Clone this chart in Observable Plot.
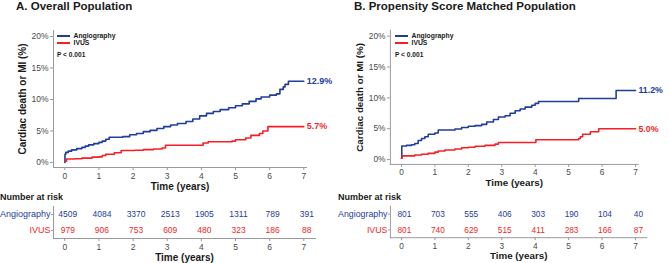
<!DOCTYPE html>
<html><head><meta charset="utf-8">
<script src="https://cdn.jsdelivr.net/npm/d3@7"></script>
<script src="https://cdn.jsdelivr.net/npm/@observablehq/plot@0.6"></script>
<style>
body{margin:0;background:#fff;font-family:"Liberation Sans",Arial,sans-serif;}
#root{position:relative;width:669px;height:263px;overflow:hidden;background:#fff;}
.abs{position:absolute;white-space:nowrap;}
.plot{position:absolute;}
.plot svg{overflow:visible;}
[aria-label="x-axis label"] text,[aria-label="y-axis label"] text{font-weight:bold;font-size:10px;fill:#1a1a1a;}
</style></head>
<body><div id="root"></div>
<script>
// ---------- data ----------
const years = [0,1,2,3,4,5,6,7];
const yTicks = [0,5,10,15,20];
const groups = ["Angiography","IVUS"];
const pText = "P < 0.001";
const titleA = "A. Overall Population";
const titleB = "B. Propensity Score Matched Population";
const yLabel = "Cardiac death or MI (%)";
const xLabel = "Time (years)";
const riskLabel = "Number at risk";

// Panel A: cumulative incidence (%)
const aAngioTime = [0,0.005,0.03,0.1,0.2,0.35,0.5,0.6,0.7,0.85,1.0,1.1,1.2,1.3,1.5,1.7,1.9,2.1,2.3,2.5,2.7,2.9,3.1,3.3,3.55,3.75,3.95,4.15,4.35,4.55,4.8,5.0,5.2,5.4,5.6,5.75,6.0,6.2,6.3,6.4,6.45,6.55,7.0];
const aAngioPct  = [0,1.3,1.6,1.8,2.0,2.2,2.4,2.6,2.8,3.0,3.2,3.4,3.7,4.0,4.0,4.1,4.4,4.6,4.9,5.1,5.4,5.7,5.95,6.2,6.5,6.9,7.4,7.8,8.1,8.4,8.7,9.0,9.3,9.7,10.1,10.4,10.7,10.9,11.6,12.0,12.4,12.9,12.9];
const aIvusTime = [0,0.05,0.3,0.5,0.8,1.0,1.1,1.2,1.45,1.65,2.05,2.3,2.6,2.85,2.95,4.0,4.05,4.2,4.9,5.0,5.3,5.45,5.7,5.8,5.95,7.0];
const aIvusPct  = [0.2,0.55,0.6,0.7,0.85,0.9,1.1,1.3,1.55,1.9,1.95,2.05,2.15,2.3,2.75,2.75,3.1,3.3,3.4,3.6,3.9,4.3,4.6,5.0,5.7,5.7];

// Panel B
const bAngioTime = [0,0.01,0.15,0.3,0.4,0.5,0.6,0.7,0.8,1.0,1.1,1.6,1.8,2.0,2.2,2.4,2.55,2.75,2.9,3.1,3.25,3.4,3.55,3.7,3.9,4.0,4.1,5.3,6.42,7.0];
const bAngioPct  = [0.2,2.2,2.3,2.4,2.6,3.1,3.4,3.7,4.1,4.3,4.8,4.95,5.2,5.4,5.5,5.7,6.1,6.5,6.9,7.1,7.5,7.9,8.2,8.5,8.8,9.1,9.4,9.9,11.2,11.2];
const bIvusTime = [0,0.02,0.4,0.6,0.8,1.0,1.1,1.3,1.6,1.8,2.0,2.2,2.5,2.8,2.9,4.0,4.02,5.3,5.35,5.42,5.65,5.9,7.0];
const bIvusPct  = [0.2,0.6,0.75,0.85,1.0,1.2,1.4,1.55,1.7,1.9,2.0,2.15,2.3,2.5,2.75,2.75,3.2,3.4,3.7,4.1,4.5,5.0,5.0];

// Number at risk
const aRiskAngio = [4509,4084,3370,2513,1905,1311,789,391];
const aRiskIvus  = [979,906,753,609,480,323,186,88];
const bRiskAngio = [801,703,555,406,303,190,104,40];
const bRiskIvus  = [801,740,629,515,411,283,166,87];

// ---------- styles ----------
const blue = "#1f3d9b", red = "#f51f25";
const axisColor = "#9a9a9a", tickText = "#4a4a4a";
const font = '"Liberation Sans", Arial, sans-serif';
const root = document.getElementById("root");

function addText(txt, x, yc, size, opts = {}) {
  const d = document.createElement("div");
  d.className = "abs";
  d.textContent = txt;
  d.style.left = x + "px";
  d.style.top = (yc - size / 2) + "px";
  d.style.fontSize = size + "px";
  d.style.lineHeight = size + "px";
  d.style.fontWeight = opts.bold ? "bold" : "normal";
  d.style.color = opts.color || "#1a1a1a";
  root.appendChild(d);
}
function addSwatch(x, yc, color) {
  const d = document.createElement("div");
  d.className = "abs";
  d.style.left = x + "px"; d.style.top = (yc - 1) + "px";
  d.style.width = "13px"; d.style.height = "2px";
  d.style.background = color;
  root.appendChild(d);
}
function place(svg, x, y) {
  const w = document.createElement("div");
  w.className = "plot";
  w.style.left = x + "px"; w.style.top = y + "px";
  w.appendChild(svg);
  root.appendChild(w);
}

function panel(ox, title, curves, risk) {
  addText(title, ox + 16, 6.5, 11.5, {bold: true});
  // legend
  addSwatch(ox + 57, 36, blue);
  addText(groups[0], ox + 73.5, 36, 6.8, {bold: true});
  addSwatch(ox + 57, 43, red);
  addText(groups[1], ox + 73.5, 43, 6.8, {bold: true});
  addText(pText, ox + 57, 55, 6.6, {bold: true});

  const lineData = curves.flatMap(c => c.time.map((t, i) => ({t, p: c.pct[i], g: c.group})));
  const ends = curves.map(c => ({t: c.time[c.time.length - 1], p: c.pct[c.pct.length - 1], g: c.group}));

  const main = Plot.plot({
    width: 338, height: 172,
    marginLeft: 53, marginRight: 32, marginTop: 10, marginBottom: 25,
    insetLeft: 11.3, insetRight: 2.7, insetTop: 6, insetBottom: 5,
    style: {fontFamily: font, fontSize: "8px", color: tickText, background: "transparent", overflow: "visible"},
    x: {domain: [0, 7]},
    y: {domain: [0, 20]},
    color: {domain: groups, range: [blue, red]},
    marks: [
      Plot.frame({anchor: "left", stroke: axisColor}),
      Plot.frame({anchor: "bottom", stroke: axisColor}),
      Plot.axisY({ticks: yTicks, tickFormat: d => d + "%", tickSize: 3, tickPadding: 2, stroke: axisColor, fill: tickText,
        fontSize: 8.5, label: yLabel, labelAnchor: "center", labelOffset: 35, labelArrow: "none"}),
      Plot.axisX({ticks: years, tickFormat: d => String(d), tickSize: 3, tickPadding: 2, stroke: axisColor, fill: tickText,
        fontSize: 8.5, label: xLabel, labelAnchor: "center", labelOffset: 22, labelArrow: "none"}),
      Plot.line(lineData, {x: "t", y: "p", z: "g", stroke: "g", curve: "step-after", strokeWidth: 1.6}),
      Plot.text(ends, {x: "t", y: "p", text: d => d.p.toFixed(1) + "%", fill: "g", dx: 3, textAnchor: "start",
        fontWeight: "bold", fontSize: 9})
    ]
  });
  place(main, ox, 20);

  addText(riskLabel, ox, 197, 9, {bold: true});
  const riskData = groups.flatMap((g, gi) => years.map((yr, i) => ({year: yr, g, n: risk[gi][i]})));
  const tbl = Plot.plot({
    width: 338, height: 63,
    marginLeft: 53, marginRight: 23, marginTop: 6, marginBottom: 25,
    insetLeft: 11.3, insetRight: 11.7,
    style: {fontFamily: font, fontSize: "8px", color: tickText, background: "transparent", overflow: "visible"},
    x: {domain: [0, 7]},
    y: {domain: groups},
    color: {domain: groups, range: [blue, red]},
    marks: [
      Plot.frame({anchor: "left", stroke: axisColor}),
      Plot.frame({anchor: "bottom", stroke: axisColor}),
      Plot.axisY({tickSize: 2, tickPadding: 1, fontSize: 9, stroke: axisColor, fill: d => d, label: null}),
      Plot.axisX({ticks: years, tickFormat: d => String(d), tickSize: 3, tickPadding: 2, stroke: axisColor, fill: tickText,
        fontSize: 8.5, label: xLabel, labelAnchor: "center", labelOffset: 22, labelArrow: "none"}),
      Plot.text(riskData, {x: "year", y: "g", text: d => String(d.n), fill: "g", fontSize: 8.5, dx: 3})
    ]
  });
  place(tbl, ox, 200);
}

panel(0, titleA, [
  {group: groups[0], time: aAngioTime, pct: aAngioPct},
  {group: groups[1], time: aIvusTime, pct: aIvusPct}
], [aRiskAngio, aRiskIvus]);

panel(338, titleB, [
  {group: groups[0], time: bAngioTime, pct: bAngioPct},
  {group: groups[1], time: bIvusTime, pct: bIvusPct}
], [bRiskAngio, bRiskIvus]);
</script>
</body></html>
